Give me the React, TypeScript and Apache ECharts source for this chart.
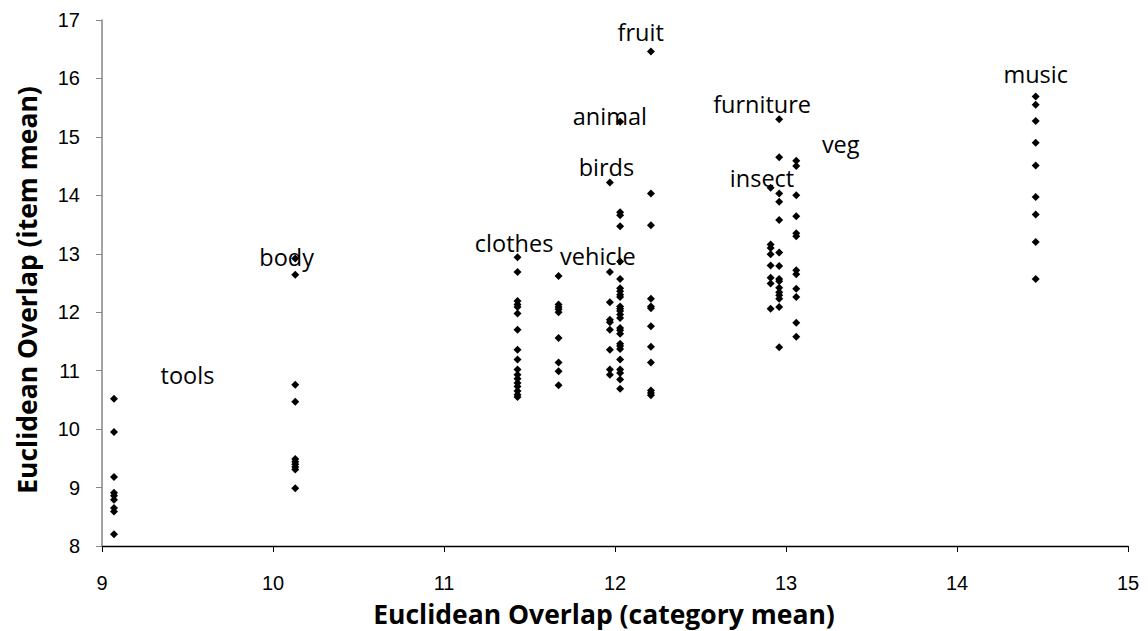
import React, { useEffect, useRef } from "react";
import * as echarts from "echarts";

const toolsX = 9.07;
const toolsY = [10.52, 9.95, 9.18, 8.91, 8.86, 8.79, 8.65, 8.59, 8.2];
const bodyX = 10.13;
const bodyY = [12.92, 12.64, 10.76, 10.47, 9.49, 9.44, 9.4, 9.35, 9.31, 8.99];
const clothesX = 11.43;
const clothesY = [12.94, 12.69, 12.19, 12.13, 12.09, 11.98, 11.7, 11.36, 11.19, 11.02, 10.93, 10.86, 10.79, 10.73, 10.65, 10.59, 10.55];
const vehicleX = 11.67;
const vehicleY = [12.62, 12.13, 12.09, 12.05, 12.0, 11.56, 11.14, 10.99, 10.75];
const birdsX = 11.97;
const birdsY = [14.22, 12.69, 12.17, 11.87, 11.83, 11.7, 11.36, 11.02, 10.93];
const animalX = 12.03;
const animalY = [15.26, 13.71, 13.66, 13.47, 12.87, 12.57, 12.41, 12.36, 12.3, 12.26, 12.1, 12.06, 12.02, 11.96, 11.9, 11.73, 11.69, 11.63, 11.46, 11.42, 11.37, 11.19, 11.02, 10.96, 10.85, 10.69];
const fruitX = 12.21;
const fruitY = [16.46, 14.03, 13.49, 12.23, 12.1, 12.07, 11.76, 11.41, 11.14, 10.66, 10.62, 10.58];
const insectX = 12.91;
const insectY = [14.13, 13.16, 13.1, 12.99, 12.8, 12.59, 12.49, 12.06];
const furnitureX = 12.96;
const furnitureY = [15.3, 14.65, 14.03, 13.89, 13.58, 13.02, 12.79, 12.57, 12.53, 12.42, 12.34, 12.29, 12.23, 12.09, 11.4];
const vegX = 13.06;
const vegY = [14.59, 14.5, 14.0, 13.64, 13.35, 13.3, 12.72, 12.65, 12.4, 12.26, 11.82, 11.58];
const musicX = 14.46;
const musicY = [15.69, 15.55, 15.27, 14.9, 14.51, 13.97, 13.67, 13.2, 12.57];

const labelNames = ["tools", "body", "clothes", "vehicle", "fruit", "animal", "birds", "furniture", "veg", "insect", "music"];
const labelX = [9.5, 10.08, 11.41, 11.9, 12.15, 11.97, 11.95, 12.86, 13.32, 12.86, 14.46];
const labelY = [10.93, 12.95, 13.19, 12.97, 16.79, 15.35, 14.48, 15.56, 14.87, 14.29, 16.07];

const columns: [number, number[]][] = [
  [toolsX, toolsY], [bodyX, bodyY], [clothesX, clothesY], [vehicleX, vehicleY],
  [birdsX, birdsY], [animalX, animalY], [fruitX, fruitY], [insectX, insectY],
  [furnitureX, furnitureY], [vegX, vegY], [musicX, musicY],
];

export default function App() {
  const ref = useRef<HTMLDivElement>(null);
  useEffect(() => {
    if (!ref.current) return;
    const chart = echarts.init(ref.current, null, { renderer: "svg" });
    const points: number[][] = [];
    columns.forEach(([x, ys]) => ys.forEach((y) => points.push([x, y])));
    const labels = labelNames.map((n, i) => ({ name: n, value: [labelX[i], labelY[i]] }));
    chart.setOption({
      animation: false,
      grid: { left: 102, right: 20, top: 20, bottom: 85, outerBoundsMode: "none", containLabel: false },
      xAxis: {
        type: "value", min: 9, max: 15, interval: 1,
        name: "Euclidean Overlap (category mean)",
        nameLocation: "middle", nameGap: 54,
        nameTextStyle: {
          fontFamily: "Open Sans", fontWeight: "bold", fontSize: 26.5, color: "#000",
          padding: [0, 22, 0, 0],
        },
        axisLine: { lineStyle: { color: "#000", width: 1.3 } },
        axisTick: { show: true, length: 6, lineStyle: { color: "#000" } },
        axisLabel: { margin: 27, fontFamily: "Liberation Sans", fontSize: 20, color: "#000" },
        splitLine: { show: false },
      },
      yAxis: {
        type: "value", min: 8, max: 17, interval: 1,
        name: "Euclidean Overlap (item mean)",
        nameLocation: "middle", nameGap: 62,
        nameTextStyle: {
          fontFamily: "Open Sans", fontWeight: "bold", fontSize: 26.5, color: "#000",
          padding: [0, 14, 0, 0],
        },
        axisLine: { show: true, lineStyle: { color: "#868686", width: 1.5 } },
        axisTick: { show: true, length: 6, lineStyle: { color: "#868686" } },
        axisLabel: { margin: 22, fontFamily: "Liberation Sans", fontSize: 20, color: "#000" },
        splitLine: { show: false },
      },
      series: [
        {
          type: "scatter", data: points, symbol: "diamond", symbolSize: 8,
          itemStyle: { color: "#000", opacity: 1 },
        },
        {
          type: "scatter", data: labels, symbolSize: 0, silent: true,
          itemStyle: { opacity: 1 },
          label: {
            show: true, position: "inside", formatter: "{b}",
            fontFamily: "Open Sans", fontSize: 23.5, color: "#000",
          },
        },
      ],
    });
    return () => chart.dispose();
  }, []);
  return (
    <div
      ref={ref}
      style={{ position: "absolute", left: 0, top: 0, width: 1148, height: 631 }}
    />
  );
}
